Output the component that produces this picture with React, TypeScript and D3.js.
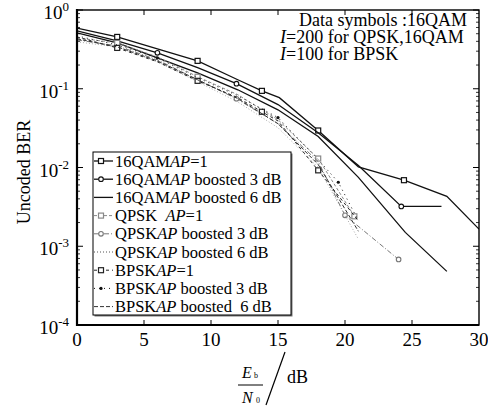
import React from "react";
import * as d3 from "d3";

// Eb/N0 (dB) and uncoded BER
const qam16Ap1X = [0, 3, 6, 9, 12, 13.8, 15.1, 18, 21, 24.4, 27.6, 30];
const qam16Ap1Ber = [0.59, 0.455, 0.32, 0.226, 0.13, 0.094, 0.077, 0.0295, 0.0102, 0.0069, 0.0043, 0.00165];
const qam16Ap1Marks = [3, 9, 13.8, 18, 24.4];

const qam16B3X = [0, 3, 6, 9, 11.9, 15, 18, 21, 24.2, 27.2];
const qam16B3Ber = [0.542, 0.405, 0.286, 0.185, 0.116, 0.063, 0.0277, 0.0106, 0.0032, 0.0032];
const qam16B3Marks = [6, 11.9, 24.2];

const qam16B6X = [0, 3, 6, 9, 12, 15, 18, 21, 24.5, 27.6];
const qam16B6Ber = [0.512, 0.382, 0.247, 0.159, 0.097, 0.054, 0.0247, 0.0075, 0.0015, 0.00048];

const qpskAp1X = [0, 3, 6, 9, 12, 15, 18, 20.7];
const qpskAp1Ber = [0.442, 0.382, 0.254, 0.142, 0.084, 0.0405, 0.013, 0.0024];
const qpskAp1Marks = [3, 9, 18, 20.7];

const qpskB3X = [0, 3, 6, 9, 11.9, 15, 18, 20, 24];
const qpskB3Ber = [0.417, 0.35, 0.233, 0.13, 0.0747, 0.036, 0.0119, 0.00247, 0.00068];
const qpskB3Marks = [11.9, 20, 24];

const qpskB6X = [0, 3, 6, 9, 12, 15, 18, 21];
const qpskB6Ber = [0.394, 0.34, 0.22, 0.123, 0.068, 0.032, 0.01, 0.00123];

const bpskAp1X = [0, 3, 6, 9, 12, 13.8, 15, 18, 21];
const bpskAp1Ber = [0.455, 0.33, 0.22, 0.126, 0.077, 0.051, 0.039, 0.0092, 0.0021];
const bpskAp1Marks = [3, 9, 13.8, 18];

const bpskB3X = [0, 3, 6, 9, 12, 15, 18, 19.5, 21];
const bpskB3Ber = [0.469, 0.36, 0.247, 0.138, 0.0815, 0.043, 0.0126, 0.0065, 0.0021];
const bpskB3Marks = [6, 15, 19.5];

const bpskB6X = [0, 3, 6, 9, 12, 15, 18, 21];
const bpskB6Ber = [0.43, 0.34, 0.226, 0.13, 0.075, 0.036, 0.0109, 0.00155];

const xTicks = [0, 5, 10, 15, 20, 25, 30];
const yExponents = [0, -1, -2, -3, -4];

const legendMods = ["16QAM", "16QAM", "16QAM", "QPSK  ", "QPSK", "QPSK", "BPSK", "BPSK", "BPSK"];
const legendTails = ["=1", " boosted 3 dB", " boosted 6 dB", "=1", " boosted 3 dB", " boosted 6 dB", "=1", " boosted 3 dB", " boosted  6 dB"];

const notes = ["Data symbols :16QAM", "=200 for QPSK,16QAM", "=100 for BPSK"];

const FONT = "Liberation Serif, Times New Roman, DejaVu Serif, serif";

type Series = {
  xs: number[];
  ys: number[];
  marks: number[];
  color: string;
  width: number;
  dash: string;
  marker: "square" | "circle" | "dot" | "none";
};

const series: Series[] = [
  { xs: qam16Ap1X, ys: qam16Ap1Ber, marks: qam16Ap1Marks, color: "#111", width: 1.3, dash: "", marker: "square" },
  { xs: qam16B3X, ys: qam16B3Ber, marks: qam16B3Marks, color: "#111", width: 1.3, dash: "", marker: "circle" },
  { xs: qam16B6X, ys: qam16B6Ber, marks: [], color: "#111", width: 1.3, dash: "", marker: "none" },
  { xs: qpskAp1X, ys: qpskAp1Ber, marks: qpskAp1Marks, color: "#888", width: 1, dash: "3,2", marker: "square" },
  { xs: qpskB3X, ys: qpskB3Ber, marks: qpskB3Marks, color: "#777", width: 1, dash: "5,2,1,2", marker: "circle" },
  { xs: qpskB6X, ys: qpskB6Ber, marks: [], color: "#aaa", width: 1, dash: "1,2", marker: "none" },
  { xs: bpskAp1X, ys: bpskAp1Ber, marks: bpskAp1Marks, color: "#222", width: 1, dash: "3,3", marker: "square" },
  { xs: bpskB3X, ys: bpskB3Ber, marks: bpskB3Marks, color: "#111", width: 1, dash: "1,4", marker: "dot" },
  { xs: bpskB6X, ys: bpskB6Ber, marks: [], color: "#333", width: 1, dash: "4,2", marker: "none" },
];

const left = 77, right = 479, top = 10, bottom = 325;

const x = d3.scaleLinear().domain([0, 30]).range([left, right]);
const y = d3.scaleLog().domain([1e-4, 1]).range([bottom, top]);

function Marker({ kind, cx, cy, color }: { kind: string; cx: number; cy: number; color: string }) {
  if (kind === "square")
    return <rect x={cx - 2.5} y={cy - 2.5} width={5} height={5} fill="white" stroke={color} strokeWidth={1.2} />;
  if (kind === "circle")
    return <circle cx={cx} cy={cy} r={2.3} fill="white" stroke={color} strokeWidth={1.1} />;
  if (kind === "dot") return <circle cx={cx} cy={cy} r={1.6} fill={color} />;
  return null;
}

export default function App() {
  const line = d3
    .line<[number, number]>()
    .x(d => x(d[0]))
    .y(d => y(d[1]));

  const minorTicks: number[] = [];
  for (let e = -4; e < 0; e++) for (let k = 2; k <= 9; k++) minorTicks.push(k * Math.pow(10, e));

  const legX = 93, legY = 152, legW = 198, legH = 163;
  const dark = (c: string) => (c === "#aaa" ? "#555" : c);

  return (
    <svg width={488} height={407} style={{ position: "absolute", left: 0, top: 0, fontFamily: FONT }}>
      <defs>
        <clipPath id="plot">
          <rect x={left} y={top} width={right - left} height={bottom - top} />
        </clipPath>
      </defs>
      <rect width={488} height={407} fill="white" />

      <g clipPath="url(#plot)">
        {series.map((s, i) => (
          <g key={i}>
            <path
              d={line(s.xs.map((v, j) => [v, s.ys[j]] as [number, number])) || ""}
              fill="none"
              stroke={s.color}
              strokeWidth={s.width}
              strokeDasharray={s.dash || undefined}
            />
            {s.marks.map(m => {
              const j = s.xs.indexOf(m);
              return <Marker key={m} kind={s.marker} cx={x(m)} cy={y(s.ys[j])} color={dark(s.color)} />;
            })}
          </g>
        ))}
      </g>

      {/* frame and ticks */}
      <rect x={left} y={top} width={right - left} height={bottom - top} fill="none" stroke="#000" strokeWidth={1.4} />
      <line x1={left} x2={left} y1={top - 1} y2={bottom + 1} stroke="#000" strokeWidth={2.2} />
      <line x1={left - 1} x2={right} y1={bottom} y2={bottom} stroke="#000" strokeWidth={2.2} />
      {xTicks.slice(1, -1).map(t => (
        <g key={t}>
          <line x1={x(t)} x2={x(t)} y1={bottom} y2={bottom - 5} stroke="#000" />
          <line x1={x(t)} x2={x(t)} y1={top} y2={top + 5} stroke="#000" />
        </g>
      ))}
      {yExponents.map(e => (
        <g key={e}>
          <line x1={left} x2={left + 6} y1={y(Math.pow(10, e))} y2={y(Math.pow(10, e))} stroke="#000" />
          <line x1={right} x2={right - 6} y1={y(Math.pow(10, e))} y2={y(Math.pow(10, e))} stroke="#000" />
        </g>
      ))}
      {minorTicks.map((t, i) => (
        <g key={i}>
          <line x1={left} x2={left + 3} y1={y(t)} y2={y(t)} stroke="#000" strokeWidth={0.8} />
          <line x1={right} x2={right - 3} y1={y(t)} y2={y(t)} stroke="#000" strokeWidth={0.8} />
        </g>
      ))}

      {/* tick labels */}
      {xTicks.map(t => (
        <text key={t} x={x(t)} y={346} fontSize={19} textAnchor="middle" style={{ fontFamily: FONT }}>
          {t}
        </text>
      ))}
      {yExponents.map(e => (
        <text key={e} x={69} y={y(Math.pow(10, e)) + 9} fontSize={19} textAnchor="end" style={{ fontFamily: FONT }}>
          10
          <tspan fontSize={13} dy={-8}>
            {e}
          </tspan>
        </text>
      ))}

      {/* axis titles */}
      <text transform="translate(30,172) rotate(-90)" fontSize={18} textAnchor="middle" style={{ fontFamily: FONT }}>
        Uncoded BER
      </text>
      <g fontSize={16} style={{ fontFamily: FONT }}>
        <text x={242} y={378} fontStyle="italic">E</text>
        <text x={254} y={378} fontSize={8}>b</text>
        <line x1={238} x2={263} y1={385} y2={385} stroke="#000" strokeWidth={1} />
        <text x={242} y={403} fontStyle="italic">N</text>
        <text x={256} y={403} fontSize={8}>0</text>
        <line x1={266} x2={285} y1={405} y2={352} stroke="#000" strokeWidth={1.2} />
        <text x={287} y={383} fontSize={18}>dB</text>
      </g>

      {/* annotation */}
      <g fontSize={18} style={{ fontFamily: FONT }}>
        <text x={299} y={26}>{notes[0]}</text>
        <text x={280} y={43}>
          <tspan fontStyle="italic">I</tspan>
          {notes[1]}
        </text>
        <text x={280} y={60}>
          <tspan fontStyle="italic">I</tspan>
          {notes[2]}
        </text>
      </g>

      {/* legend */}
      <rect x={legX + 1.5} y={legY + 1.5} width={legW} height={legH} fill="#777" />
      <rect x={legX} y={legY} width={legW} height={legH} fill="white" stroke="#000" strokeWidth={1} />
      {series.map((s, i) => {
        const cy = 161 + i * 18.2;
        return (
          <g key={i}>
            <line x1={legX + 1} x2={legX + 20} y1={cy} y2={cy} stroke={dark(s.color)} strokeWidth={s.width} strokeDasharray={s.dash || undefined} />
            <Marker kind={s.marker} cx={legX + 8} cy={cy} color={dark(s.color)} />
            <text x={legX + 22} y={cy + 5.5} fontSize={16.5} style={{ whiteSpace: "pre", fontFamily: FONT }}>
              {legendMods[i]}
              <tspan fontStyle="italic">AP</tspan>
              {legendTails[i]}
            </text>
          </g>
        );
      })}
    </svg>
  );
}
